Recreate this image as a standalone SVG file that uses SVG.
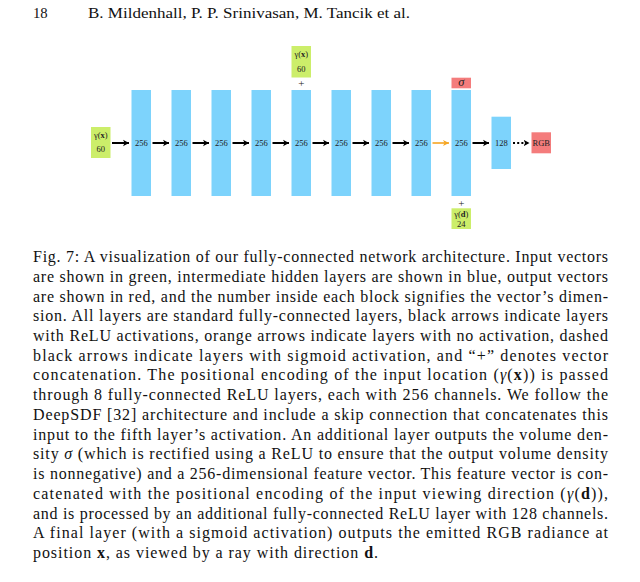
<svg xmlns="http://www.w3.org/2000/svg" width="640" height="582" viewBox="0 0 640 582">
<style>
.bg{fill:#ffffff}
.bar{fill:#7DD3FC}
.grn{fill:#CCEE6A}
.red{fill:#F47C7C}
.lbl{font-family:"Liberation Serif","DejaVu Serif",serif;font-size:8.5px;fill:#222;text-anchor:middle}
.plus{font-family:"Liberation Serif","DejaVu Serif",serif;font-size:11px;fill:#222;text-anchor:middle}
.sig{font-family:"Liberation Serif","DejaVu Serif",serif;font-size:12.5px;font-style:italic;fill:#222;text-anchor:middle}
.cap{font-family:"Liberation Serif","DejaVu Serif",serif;font-size:16px;fill:#111}
.hdr{font-family:"Liberation Serif","DejaVu Serif",serif;font-size:14.7px;fill:#111}
.blk{stroke:#000;stroke-width:2;fill:none}
.org{stroke:#F5A623;stroke-width:1.6;fill:none}
.dsh{stroke:#000;stroke-width:2;fill:none;stroke-dasharray:2 2.2}
</style>
<defs>
<marker id="hb" markerUnits="userSpaceOnUse" markerWidth="8" markerHeight="8" refX="6" refY="4" orient="auto">
<path d="M0,0.8 L6,4 L0,7.2 L1.6,4 Z" fill="#000"/>
</marker>
<marker id="ho" markerUnits="userSpaceOnUse" markerWidth="8" markerHeight="8" refX="6" refY="4" orient="auto">
<path d="M0,1 L6,4 L0,7 L1.6,4 Z" fill="#F5A623"/>
</marker>
</defs>
<rect class="bg" x="0" y="0" width="640" height="582"/>
<g id="header">
<text class="hdr" x="33" y="18">18</text>
<text class="hdr" x="88" y="18" textLength="322" lengthAdjust="spacingAndGlyphs">B. Mildenhall, P. P. Srinivasan, M. Tancik et al.</text>
</g>
<g id="connectors">
<line class="blk" x1="112" y1="143" x2="129" y2="143" marker-end="url(#hb)"/>
<line class="blk" x1="152.5" y1="143" x2="169" y2="143" marker-end="url(#hb)"/>
<line class="blk" x1="192.5" y1="143" x2="209" y2="143" marker-end="url(#hb)"/>
<line class="blk" x1="232.5" y1="143" x2="249" y2="143" marker-end="url(#hb)"/>
<line class="blk" x1="272.5" y1="143" x2="289" y2="143" marker-end="url(#hb)"/>
<line class="blk" x1="312.5" y1="143" x2="329" y2="143" marker-end="url(#hb)"/>
<line class="blk" x1="352.5" y1="143" x2="369" y2="143" marker-end="url(#hb)"/>
<line class="blk" x1="392.5" y1="143" x2="409" y2="143" marker-end="url(#hb)"/>
<line class="org" x1="432.5" y1="143" x2="449" y2="143" marker-end="url(#ho)"/>
<line class="blk" x1="472.5" y1="143" x2="489" y2="143" marker-end="url(#hb)"/>
<line class="dsh" x1="513" y1="143" x2="529.5" y2="143" marker-end="url(#hb)"/>
</g>
<g id="input_x">
<rect class="grn" x="91" y="127" width="19.5" height="31"/>
<text class="lbl" x="100.75" y="138">γ(<tspan font-weight="bold">x</tspan>)</text>
<text class="lbl" x="100.75" y="152">60</text>
</g>
<g id="layer1"><rect class="bar" x="131.5" y="90" width="19.5" height="106"/><text class="lbl" x="141.25" y="146">256</text></g>
<g id="layer2"><rect class="bar" x="171.5" y="90" width="19.5" height="106"/><text class="lbl" x="181.25" y="146">256</text></g>
<g id="layer3"><rect class="bar" x="211.5" y="90" width="19.5" height="106"/><text class="lbl" x="221.25" y="146">256</text></g>
<g id="layer4"><rect class="bar" x="251.5" y="90" width="19.5" height="106"/><text class="lbl" x="261.25" y="146">256</text></g>
<g id="layer5"><rect class="bar" x="291.5" y="90" width="19.5" height="106"/><text class="lbl" x="301.25" y="146">256</text></g>
<g id="skip_input">
<rect class="grn" x="291.5" y="46" width="19.5" height="31.5"/>
<text class="lbl" x="301.25" y="56.5">γ(<tspan font-weight="bold">x</tspan>)</text>
<text class="lbl" x="301.25" y="72.3">60</text>
<text class="plus" x="301.25" y="87">+</text>
</g>
<g id="layer6"><rect class="bar" x="331.5" y="90" width="19.5" height="106"/><text class="lbl" x="341.25" y="146">256</text></g>
<g id="layer7"><rect class="bar" x="371.5" y="90" width="19.5" height="106"/><text class="lbl" x="381.25" y="146">256</text></g>
<g id="layer8"><rect class="bar" x="411.5" y="90" width="19.5" height="106"/><text class="lbl" x="421.25" y="146">256</text></g>
<g id="layer9"><rect class="bar" x="451.5" y="90" width="19.5" height="106"/><text class="lbl" x="461.25" y="146">256</text></g>
<g id="sigma">
<rect class="red" x="451.5" y="77.7" width="19.5" height="10.6"/>
<text class="sig" x="461.25" y="86.3">σ</text>
</g>
<g id="input_d">
<text class="plus" x="461.25" y="206.5">+</text>
<rect class="grn" x="451.5" y="208.3" width="19.5" height="20.7"/>
<text class="lbl" x="461.25" y="217.3">γ(<tspan font-weight="bold">d</tspan>)</text>
<text class="lbl" x="461.25" y="227">24</text>
</g>
<g id="layer128"><rect class="bar" x="491.5" y="116.7" width="19.5" height="52.3"/><text class="lbl" x="501.25" y="146">128</text></g>
<g id="rgb"><rect class="red" x="531.5" y="132.3" width="19.5" height="21"/><text class="lbl" x="541.25" y="146">RGB</text></g>
<g id="caption">
<text class="cap" x="33" y="262" textLength="575" lengthAdjust="spacing">Fig. 7: A visualization of our fully-connected network architecture. Input vectors</text>
<text class="cap" x="33" y="281.7" textLength="575" lengthAdjust="spacing">are shown in green, intermediate hidden layers are shown in blue, output vectors</text>
<text class="cap" x="33" y="301.5" textLength="575" lengthAdjust="spacing">are shown in red, and the number inside each block signifies the vector’s dimen-</text>
<text class="cap" x="33" y="321.2" textLength="575" lengthAdjust="spacing">sion. All layers are standard fully-connected layers, black arrows indicate layers</text>
<text class="cap" x="33" y="340.9" textLength="575" lengthAdjust="spacing">with ReLU activations, orange arrows indicate layers with no activation, dashed</text>
<text class="cap" x="33" y="360.7" textLength="575" lengthAdjust="spacing">black arrows indicate layers with sigmoid activation, and “+” denotes vector</text>
<text class="cap" x="33" y="380.4" textLength="575" lengthAdjust="spacing">concatenation. The positional encoding of the input location (<tspan font-style="italic">γ</tspan>(<tspan font-weight="bold">x</tspan>)) is passed</text>
<text class="cap" x="33" y="400.1" textLength="575" lengthAdjust="spacing">through 8 fully-connected ReLU layers, each with 256 channels. We follow the</text>
<text class="cap" x="33" y="419.8" textLength="575" lengthAdjust="spacing">DeepSDF [32] architecture and include a skip connection that concatenates this</text>
<text class="cap" x="33" y="439.6" textLength="575" lengthAdjust="spacing">input to the fifth layer’s activation. An additional layer outputs the volume den-</text>
<text class="cap" x="33" y="459.3" textLength="575" lengthAdjust="spacing">sity <tspan font-style="italic">σ</tspan> (which is rectified using a ReLU to ensure that the output volume density</text>
<text class="cap" x="33" y="479" textLength="575" lengthAdjust="spacing">is nonnegative) and a 256-dimensional feature vector. This feature vector is con-</text>
<text class="cap" x="33" y="498.8" textLength="575" lengthAdjust="spacing">catenated with the positional encoding of the input viewing direction (<tspan font-style="italic">γ</tspan>(<tspan font-weight="bold">d</tspan>)),</text>
<text class="cap" x="33" y="518.5" textLength="575" lengthAdjust="spacing">and is processed by an additional fully-connected ReLU layer with 128 channels.</text>
<text class="cap" x="33" y="538.2" textLength="575" lengthAdjust="spacing">A final layer (with a sigmoid activation) outputs the emitted RGB radiance at</text>
<text class="cap" x="33" y="558" textLength="345" lengthAdjust="spacing">position <tspan font-weight="bold">x</tspan>, as viewed by a ray with direction <tspan font-weight="bold">d</tspan>.</text>
</g>
</svg>
